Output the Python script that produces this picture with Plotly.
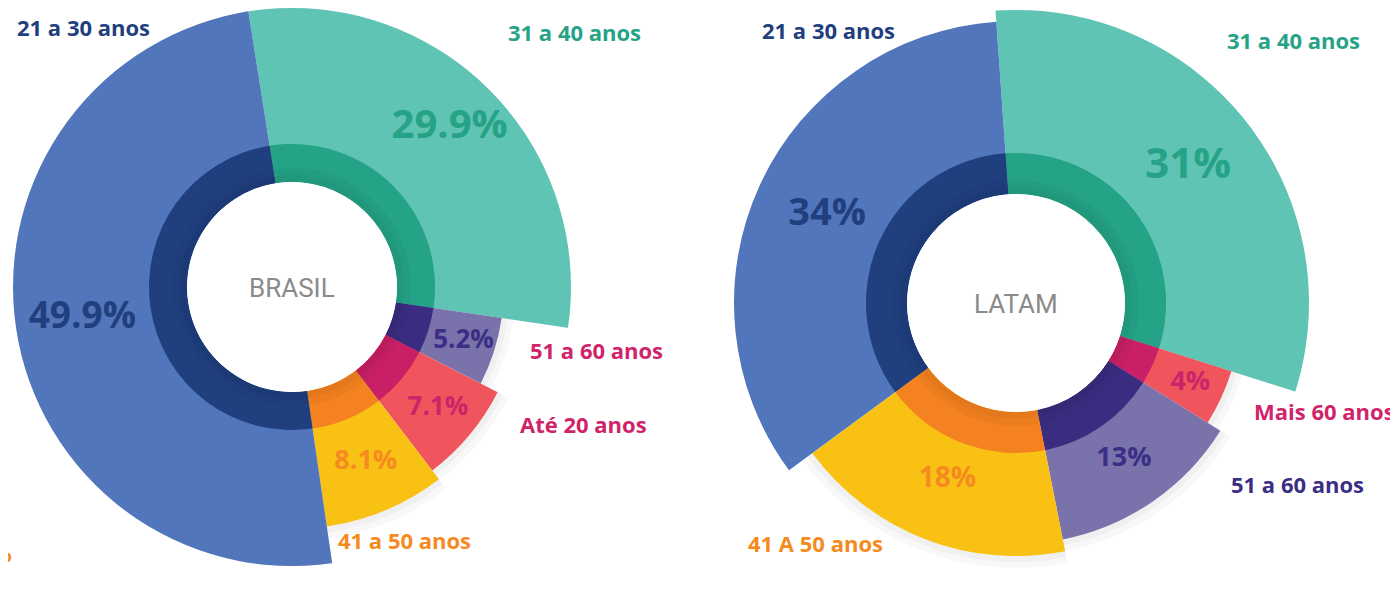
import numpy as np
import plotly.graph_objects as go

# the page body adds an 8px margin; the figure is sized to fill the rest of the window
OFF = 8
W, H = 1398 - OFF, 596 - OFF

# ---------------- data ----------------
br_categories = ["31 a 40 anos", "51 a 60 anos", "Até 20 anos", "41 a 50 anos", "21 a 30 anos"]
br_values = [29.9, 5.2, 7.1, 8.1, 49.9]
br_value_labels = ["29.9%", "5.2%", "7.1%", "8.1%", "49.9%"]

la_categories = ["31 a 40 anos", "Mais 60 anos", "51 a 60 anos", "41 A 50 anos", "21 a 30 anos"]
la_values = [31, 4, 13, 18, 34]
la_value_labels = ["31%", "4%", "13%", "18%", "34%"]

center_titles = ["BRASIL", "LATAM"]

# ---------------- styles ----------------
TEAL = dict(outer="#5fc4b3", inner="#25a386", text="#26a386", shadow=False)
PURPLE = dict(outer="#7a72ab", inner="#3a2c80", text="#3b2f85", shadow=True)
RED = dict(outer="#f0555e", inner="#c91f66", text="#cc2469", shadow=True)
YELLOW = dict(outer="#f9c114", inner="#f48220", text="#f58a20", shadow=True)
BLUE = dict(outer="#5276bb", inner="#1f3f7e", text="#1f3f7e", shadow=False)
MAGENTA_TXT = "#d0246a"

br_style = [TEAL, PURPLE, RED, YELLOW, BLUE]
la_style = [TEAL, RED, PURPLE, YELLOW, BLUE]

# geometry in screen pixels (sizes, not data)
br_geom = dict(cx=292, cy=287, R=279, hole=105, ring=143,
               outer=[303, 212, 231, 242, 282],
               label_r=[224, 180, 190, 190, 212],
               label_size=[40, 26, 26, 27, 37],
               rotation=99)
la_geom = dict(cx=1016, cy=303, R=293, hole=109, ring=150,
               outer=[317, 226, 241, 253, 282],
               label_r=[219, 192, 190, 190, 208],
               label_size=[42, 27, 27, 28, 38],
               rotation=94)

FONT = "Open Sans"

fig = go.Figure()


def polar_domain(g):
    cx, cy, R = g["cx"] - OFF, g["cy"] - OFF, g["R"]
    return dict(x=[max(0, (cx - R) / W), min(1, (cx + R) / W)],
                y=[max(0, 1 - (cy + R) / H), min(1, 1 - (cy - R) / H)])


def add_chart(subplot, values, value_labels, style, g):
    total = float(sum(values))
    spans = np.array(values, dtype=float) / total * 360.0
    mids = np.concatenate([[0.0], np.cumsum(spans)[:-1]]) + spans / 2
    hole = g["hole"]
    n = len(values)
    # soft shadow behind the smaller sectors
    for grow, alpha in [(12, 0.03), (6, 0.04)]:
        fig.add_trace(go.Barpolar(
            r=[(o + grow - hole) if s["shadow"] else 0 for o, s in zip(g["outer"], style)],
            theta=mids, width=spans, base=0,
            marker=dict(color=f"rgba(40,40,60,{alpha})", line=dict(width=0)),
            subplot=subplot, hoverinfo="skip", showlegend=False))
    # outer (light) sectors
    fig.add_trace(go.Barpolar(
        r=[o - hole for o in g["outer"]], theta=mids, width=spans, base=0,
        marker=dict(color=[s["outer"] for s in style], line=dict(width=0)),
        subplot=subplot, hoverinfo="skip", showlegend=False))
    # inner (dark) ring
    fig.add_trace(go.Barpolar(
        r=[g["ring"] - hole] * n, theta=mids, width=spans, base=0,
        marker=dict(color=[s["inner"] for s in style], line=dict(width=0)),
        subplot=subplot, hoverinfo="skip", showlegend=False))
    # subtle inner shading next to the hole
    for depth, alpha in [(14, 0.03), (7, 0.035)]:
        fig.add_trace(go.Barpolar(
            r=[depth] * n, theta=mids, width=spans, base=0,
            marker=dict(color=f"rgba(0,0,0,{alpha})", line=dict(width=0)),
            subplot=subplot, hoverinfo="skip", showlegend=False))
    # value labels
    fig.add_trace(go.Scatterpolar(
        r=[lr - hole for lr in g["label_r"]], theta=mids, mode="text",
        text=value_labels,
        textfont=dict(family=FONT, size=g["label_size"],
                      color=[s["text"] for s in style], weight="bold"),
        subplot=subplot, hoverinfo="skip", showlegend=False, cliponaxis=False))


add_chart("polar", br_values, br_value_labels, br_style, br_geom)
add_chart("polar2", la_values, la_value_labels, la_style, la_geom)


def polar_layout(g):
    return dict(
        domain=polar_domain(g),
        hole=g["hole"] / g["R"],
        bgcolor="rgba(0,0,0,0)",
        radialaxis=dict(visible=False, range=[0, g["R"] - g["hole"]]),
        angularaxis=dict(visible=False, rotation=g["rotation"], direction="clockwise",
                         thetaunit="degrees"),
    )


def px(x, y):
    return (x - OFF) / W, 1 - (y - OFF) / H


annotations = []


def label(text, x, y, color, size=22, xanchor="center", weight="bold", family=FONT):
    ax, ay = px(x, y)
    annotations.append(dict(text=text, x=ax, y=ay, xref="paper", yref="paper",
                            xanchor=xanchor, yanchor="middle", showarrow=False,
                            font=dict(family=family, size=size, color=color, weight=weight)))


# Brasil category labels
label(br_categories[4], 83, 27, BLUE["text"])
label(br_categories[0], 574, 32, TEAL["text"])
label(br_categories[1], 528, 350, MAGENTA_TXT, xanchor="left")
label(br_categories[2], 518, 424, MAGENTA_TXT, xanchor="left")
label(br_categories[3], 404, 540, YELLOW["text"])
label("%", 14, 553, YELLOW["text"], xanchor="right")

# Latam category labels
label(la_categories[4], 828, 30, BLUE["text"])
label(la_categories[0], 1293, 40, TEAL["text"])
label(la_categories[1], 1252, 411, MAGENTA_TXT, xanchor="left")
label(la_categories[2], 1229, 484, PURPLE["text"], xanchor="left")
label(la_categories[3], 815, 543, YELLOW["text"])

# center titles
for t, g in zip(center_titles, [br_geom, la_geom]):
    label(t, g["cx"], g["cy"] + 1, "#8a8a8a", size=26, weight="normal", family="Roboto")

fig.update_layout(
    width=W, height=H,
    margin=dict(l=0, r=0, t=0, b=0),
    paper_bgcolor="white", plot_bgcolor="white",
    template="none",
    showlegend=False,
    polar=polar_layout(br_geom),
    polar2=polar_layout(la_geom),
    annotations=annotations,
)

fig.write_html("out.html")
